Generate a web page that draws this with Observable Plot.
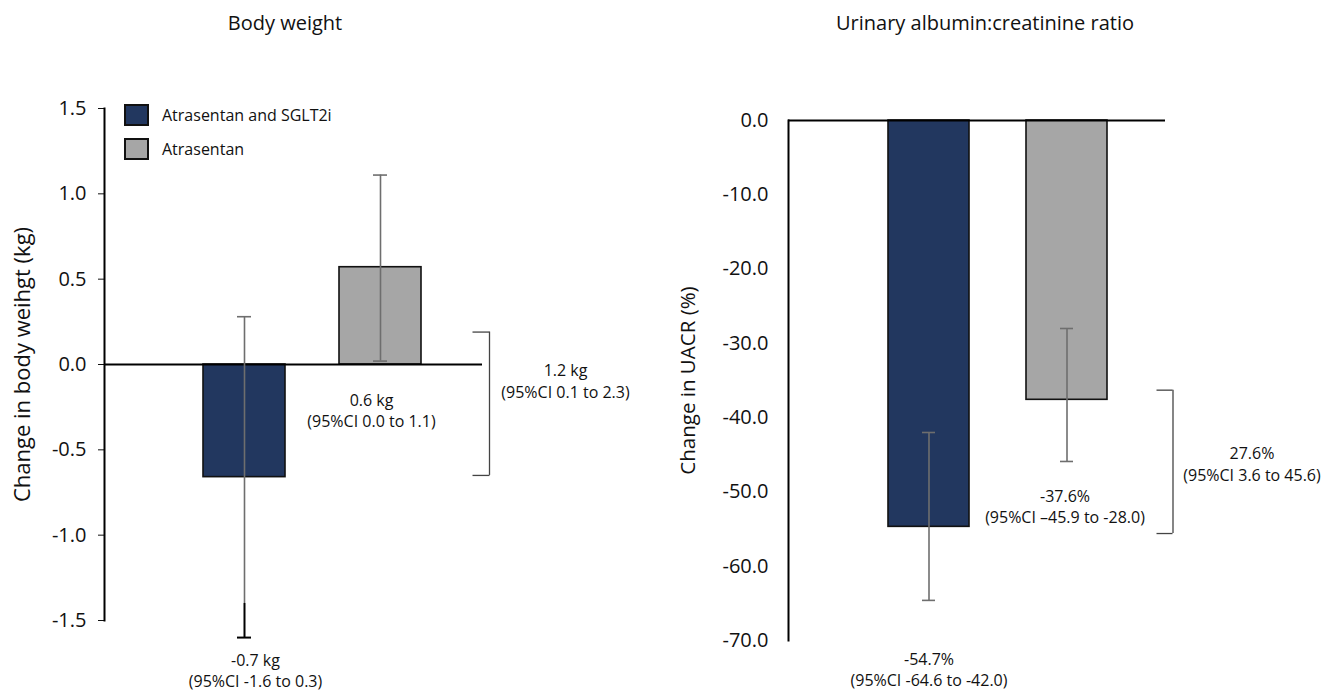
<!DOCTYPE html>
<html>
<head>
<meta charset="utf-8">
<script src="https://cdn.jsdelivr.net/npm/d3@7"></script>
<script src="https://cdn.jsdelivr.net/npm/@observablehq/plot@0.6"></script>
<style>
  body { margin: 0; background: #fff; font-family: "Open Sans", sans-serif; }
  #wrap { position: relative; width: 1322px; height: 691px; overflow: hidden; background: #fff; }
  .panel { position: absolute; top: 0; }
  .title { position: absolute; top: 9px; font-size: 20px; line-height: 28px; color: #111; transform: translateX(-50%); white-space: nowrap; }
  .leg { position: absolute; left: 124px; height: 22px; display: flex; align-items: center; font-size: 16px; color: #111; white-space: nowrap; }
  .sw { width: 25px; height: 22px; box-sizing: border-box; border: 2px solid #111; margin-right: 13px; }
</style>
</head>
<body>
<div id="wrap"></div>
<script>
// ---- data ----
const groups = ["Atrasentan and SGLT2i", "Atrasentan"];
const colors = ["#22375f", "#a6a6a6"];

const weightChange = [-0.66, 0.57];
const weightLow = [-1.6, 0.02];
const weightHigh = [0.28, 1.11];
const weightTicks = [1.5, 1.0, 0.5, 0.0, -0.5, -1.0, -1.5];
const weightLabels = ["-0.7 kg\n(95%CI -1.6 to 0.3)", "0.6 kg\n(95%CI 0.0 to 1.1)"];
const weightDiffLabel = "1.2 kg\n(95%CI 0.1 to 2.3)";
const weightBracket = [0.19, -0.65];

const uacrChange = [-54.7, -37.6];
const uacrLow = [-64.6, -45.9];
const uacrHigh = [-42.0, -28.0];
const uacrTicks = [0, -10, -20, -30, -40, -50, -60, -70];
const uacrLabels = ["-54.7%\n(95%CI -64.6 to -42.0)", "-37.6%\n(95%CI \u201345.9 to -28.0)"];
const uacrDiffLabel = "27.6%\n(95%CI 3.6 to 45.6)";
const uacrBracket = [-36.3, -55.6];

const titles = ["Body weight", "Urinary albumin:creatinine ratio"];
const yLabels = ["Change in body weihgt (kg)", "Change in UACR (%)"];

// ---- helpers ----
const idx = [0, 1];
const fmt = d => d.toFixed(1);
const annoFont = 16;

function panel({change, low, high, ticks, domain, labels, diffLabel, bracket, yLabel, yLabelSize, yLabelDx,
                width, marginLeft, marginRight, marginTop, marginBottom,
                paddingInner, paddingOuter, align, tickSize, tickPadding,
                labelPos, diffDx, diffDy, bracketDx, extra}) {
  const gx = i => groups[i];
  const half = 40.5; // half bar width in px (for bracket tick placement)
  const tickLen = 16;
  return Plot.plot({
    width, height: 691, marginLeft, marginRight, marginTop, marginBottom,
    style: { fontFamily: "Open Sans, sans-serif", fontSize: "20px", color: "#111", overflow: "visible", background: "transparent" },
    x: { domain: groups, paddingInner, paddingOuter, align, axis: null },
    y: { domain, ticks, tickFormat: fmt, tickSize, tickPadding, label: null },
    color: { domain: groups, range: colors },
    marks: [
      Plot.barY(idx, { x: gx, y: i => change[i], fill: gx, stroke: "#111", strokeWidth: 1.6 }),
      Plot.ruleY([0], { stroke: "#000", strokeWidth: 2 }),
      Plot.frame({ anchor: "left", stroke: "#000", strokeWidth: 2 }),
      Plot.ruleX(idx, { x: gx, y1: i => low[i], y2: i => high[i], stroke: "#6e6e6e", strokeWidth: 1.6 }),
      Plot.tickY(idx, { x: gx, y: i => low[i], stroke: "#6e6e6e", strokeWidth: 1.6, insetLeft: 34, insetRight: 34 }),
      Plot.tickY(idx, { x: gx, y: i => high[i], stroke: "#6e6e6e", strokeWidth: 1.6, insetLeft: 34, insetRight: 34 }),
      ...(extra || []),
      // y axis title
      Plot.text([yLabel], { frameAnchor: "left", textAnchor: "middle", rotate: -90, dx: yLabelDx, fontSize: yLabelSize, fill: "#111", lineAnchor: "middle" }),
      // value labels
      ...idx.map(k => Plot.text([k], {
        x: gx, y: labelPos[k].at === "low" ? (i => low[i]) : (() => 0),
        text: i => labels[i], dx: labelPos[k].dx, dy: labelPos[k].dy,
        fontSize: annoFont, lineHeight: 1.33, fill: "#111"
      })),
      // bracket
      Plot.ruleX([1], { x: gx, y1: () => bracket[0], y2: () => bracket[1], dx: bracketDx, stroke: "#444", strokeWidth: 1.3 }),
      Plot.tickY([1], { x: gx, y: () => bracket[0], dx: bracketDx + half - tickLen, insetRight: 2 * half - tickLen, stroke: "#444", strokeWidth: 1.3 }),
      Plot.tickY([1], { x: gx, y: () => bracket[1], dx: bracketDx + half - tickLen, insetRight: 2 * half - tickLen, stroke: "#444", strokeWidth: 1.3 }),
      Plot.text([1], { x: gx, y: () => bracket[0], text: () => diffLabel, dx: diffDx, dy: diffDy, fontSize: annoFont, lineHeight: 1.33, fill: "#111" })
    ]
  });
}

const wrap = document.getElementById("wrap");

const left = panel({
  change: weightChange, low: weightLow, high: weightHigh, ticks: weightTicks, domain: [-1.5, 1.5],
  labels: weightLabels, diffLabel: weightDiffLabel, bracket: weightBracket,
  yLabel: yLabels[0], yLabelSize: 22, yLabelDx: -82,
  width: 661, marginLeft: 104, marginRight: 179, marginTop: 108, marginBottom: 71,
  paddingInner: 0.4, paddingOuter: 0.58, align: 0.62, tickSize: 6, tickPadding: 12,
  labelPos: [{at: "low", dx: 11, dy: 32}, {at: "zero", dx: -9, dy: 45}],
  diffDx: 185, diffDy: 48, bracketDx: 109,
  extra: [Plot.ruleX([0], { x: i => groups[i], y1: () => weightLow[0], y2: -1.4, stroke: "#000", strokeWidth: 1.8 }),
          Plot.tickY([0], { x: i => groups[i], y: () => weightLow[0], stroke: "#000", strokeWidth: 1.8, insetLeft: 34, insetRight: 34 })]
});
left.classList.add("panel");
left.style.left = "0px";
wrap.appendChild(left);

const right = panel({
  change: uacrChange, low: uacrLow, high: uacrHigh, ticks: uacrTicks, domain: [-70, 0],
  labels: uacrLabels, diffLabel: uacrDiffLabel, bracket: uacrBracket,
  yLabel: yLabels[1], yLabelSize: 20.5, yLabelDx: -100,
  width: 661, marginLeft: 127, marginRight: 157, marginTop: 120, marginBottom: 51,
  paddingInner: 0.413, paddingOuter: 0.572, align: 0.633, tickSize: 0, tickPadding: 20,
  labelPos: [{at: "low", dx: 0, dy: 68}, {at: "low", dx: -2, dy: 44}],
  diffDx: 185, diffDy: 73, bracketDx: 106
});
right.classList.add("panel");
right.style.left = "661px";
wrap.appendChild(right);

// titles
[[285, titles[0]], [985, titles[1]]].forEach(([cx, t]) => {
  const d = document.createElement("div");
  d.className = "title"; d.style.left = cx + "px"; d.textContent = t;
  wrap.appendChild(d);
});

// legend
groups.forEach((g, i) => {
  const d = document.createElement("div");
  d.className = "leg"; d.style.top = (104 + i * 34) + "px";
  const s = document.createElement("div");
  s.className = "sw"; s.style.background = colors[i];
  d.appendChild(s);
  d.appendChild(document.createTextNode(g));
  wrap.appendChild(d);
});
</script>
</body>
</html>
